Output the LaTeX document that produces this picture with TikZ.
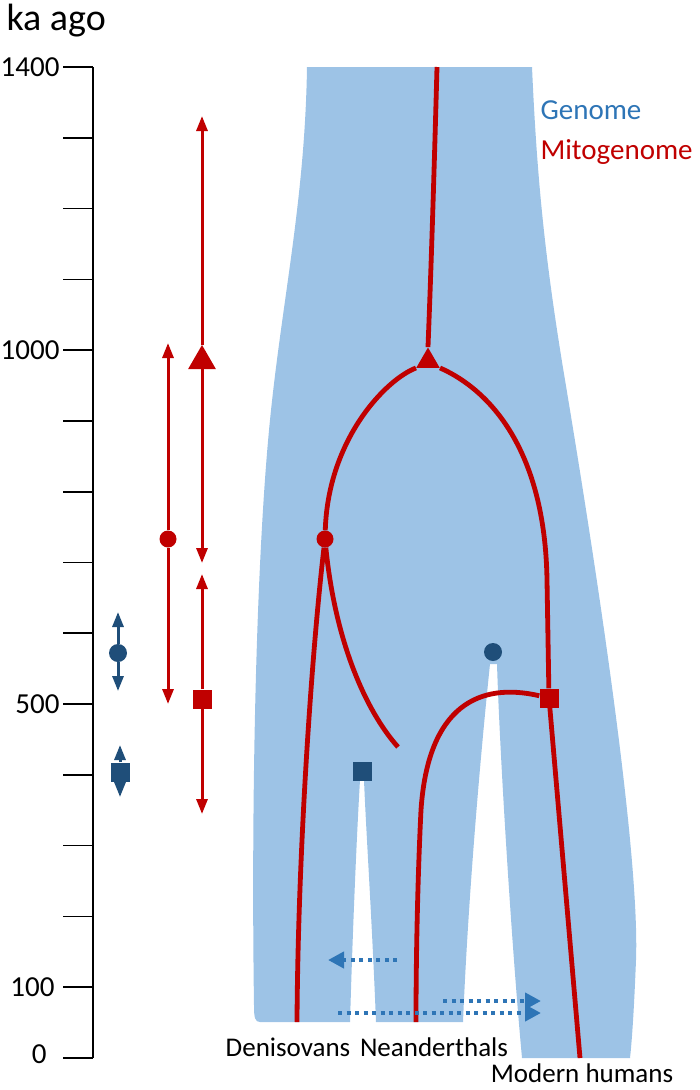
\documentclass[tikz,border=0pt]{standalone}
\usepackage{fontspec}
\setmainfont{Carlito}
\usepackage{tikz}
\usetikzlibrary{arrows.meta,shapes.geometric}
\definecolor{genomeFill}{HTML}{9DC3E6}
\definecolor{mitoRed}{HTML}{C00000}
\definecolor{genomeDark}{HTML}{1F4E79}
\definecolor{flowBlue}{HTML}{2E75B6}

\begin{document}
\begin{tikzpicture}[
  x=1pt, y=-1pt,
  font=\fontsize{27}{32}\selectfont,
  axisline/.style={line width=1.6pt, draw=black},
  genome/.style={fill=genomeFill},
  mito/.style={line width=4.8pt, draw=mitoRed},
  agerange/.style={line width=3pt, draw=mitoRed, -{Triangle[length=15pt, width=11pt]}},
  genorange/.style={line width=3pt, draw=genomeDark, -{Triangle[length=15pt, width=11pt]}},
  geneflow/.style={line width=4pt, draw=flowBlue, dash pattern=on 4pt off 4.5pt,
    -{Triangle[length=16pt, width=16pt]}},
  mitodot/.style={circle, fill=mitoRed, inner sep=0pt, minimum size=17pt},
  mitosq/.style={rectangle, fill=mitoRed, inner sep=0pt, minimum size=19pt},
  mitotri/.style={regular polygon, regular polygon sides=3, fill=mitoRed, inner sep=0pt, minimum size=#1},
  genodot/.style={circle, fill=genomeDark, inner sep=0pt, minimum size=18pt},
  genosq/.style={rectangle, fill=genomeDark, inner sep=0pt, minimum size=19pt}
]
  \useasboundingbox (0,0) rectangle (700,1090);

  % time axis
  \node[anchor=base west, font=\fontsize{38}{42}\selectfont] (unit) at (3,30) {ka ago};
  \draw[axisline] (93,67) -- (93,1058);
  \foreach \t in {0,...,14}
    \draw[axisline] (63,{1058-70.786*\t}) -- (93,{1058-70.786*\t});
  \node[anchor=east, font=\fontsize{29}{32}\selectfont] (l1400) at (63,67) {1400};
  \node[anchor=east, font=\fontsize{29}{32}\selectfont] (l1000) at (63,350) {1000};
  \node[anchor=east, font=\fontsize{29}{32}\selectfont] (l500) at (63,704) {500};
  \node[anchor=east, font=\fontsize{29}{32}\selectfont] (l100) at (58,987) {100};
  \node[anchor=east, font=\fontsize{29}{32}\selectfont] (l0) at (50,1054) {0};

  % genome tree
  \fill[genome] (307,67) -- (532,67)
    .. controls (537,180) and (545,260) .. (565,380)
    .. controls (595,560) and (640,850) .. (636,960)
    .. controls (634,1010) and (632,1040) .. (630,1058) -- (522,1058)
    .. controls (512,950) and (500,760) .. (497,664) -- (490,664)
    .. controls (480,760) and (468,900) .. (463,1022) -- (376,1022)
    .. controls (372,920) and (366,830) .. (364,780) -- (360,780)
    .. controls (357,830) and (353,920) .. (350,1022) -- (260,1022)
    .. controls (255,1022) and (254,1018) .. (254,1005)
    .. controls (251,800) and (256,560) .. (270,420)
    .. controls (282,300) and (305,200) .. (307,67) -- cycle;

  \node[text=flowBlue, anchor=west, font=\fontsize{29}{32}\selectfont] (genleg) at (537,110) {Genome};
  \node[text=mitoRed, anchor=west, font=\fontsize{29}{32}\selectfont] (mitleg) at (537,152) {Mitogenome};

  % mitogenome tree
  \node[mitotri=27pt] (mtri) at (428,361) {};
  \node[mitodot] (mcirc) at (325,539) {};
  \node[mitosq] (msq) at (549,698) {};
  \coordinate (mroot) at (437,67);
  \coordinate (dend) at (297,1022);
  \coordinate (xend) at (398,747);
  \coordinate (nend) at (416,1022);
  \coordinate (hend) at (580,1058);

  \draw[mito] (mroot) .. controls (432,250) and (429,320) .. (mtri.north);
  \draw[mito] (mtri.corner 2) .. controls (385,380) and (328,440) .. (mcirc);
  \draw[mito] (mtri.corner 3) .. controls (490,390) and (545,450) .. (547,580) -- (msq);
  \draw[mito] (msq) -- (hend);
  \draw[mito] (mcirc) .. controls (312,650) and (298,850) .. (dend);
  \draw[mito] (mcirc) .. controls (335,640) and (365,710) .. (xend);
  \draw[mito] (msq) .. controls (480,682) and (428,705) .. (421,810)
    .. controls (418,870) and (416,950) .. (nend);

  \node[genodot] (gcirc) at (493,652) {};
  \node[genosq] (gsq) at (362,771) {};

  % gene flow
  \coordinate (fa1) at (397,960);
  \coordinate (fa2) at (328,960);
  \coordinate (fb1) at (443,1001);
  \coordinate (fb2) at (541,1001);
  \coordinate (fc1) at (338,1013);
  \coordinate (fc2) at (541,1013);
  \draw[geneflow] (fa1) -- (fa2);
  \draw[geneflow] (fb1) -- (fb2);
  \draw[geneflow] (fc1) -- (fc2);

  % age estimates
  \node[mitodot] (scirc) at (168,539) {};
  \node[mitotri=32pt] (stri) at (202,361) {};
  \node[mitosq] (ssq) at (202,699) {};
  \node[genodot] (sgcirc) at (118,653) {};
  \node[genosq] (sgsq) at (120,772) {};
  \coordinate (c1top) at (168,343);
  \coordinate (c1bot) at (168,704);
  \coordinate (c2top) at (202,116);
  \coordinate (c2mid) at (202,563);
  \coordinate (c3top) at (202,574);
  \coordinate (c3bot) at (202,814);
  \coordinate (g1top) at (118,612);
  \coordinate (g1bot) at (118,691);
  \coordinate (g2top) at (120,745);
  \coordinate (g2bot) at (120,797);
  \draw[agerange] (scirc) -- (c1top);
  \draw[agerange] (scirc) -- (c1bot);
  \draw[agerange] (stri.north) -- (c2top);
  \draw[agerange] (stri.south) -- (c2mid);
  \draw[agerange] (ssq) -- (c3top);
  \draw[agerange] (ssq) -- (c3bot);
  \draw[genorange] (sgcirc) -- (g1top);
  \draw[genorange] (sgcirc) -- (g1bot);
  \draw[genorange] (sgsq) -- (g2top);
  \draw[genorange] (sgsq) -- (g2bot);

  % lineages
  \node (den) at (288,1047) {Denisovans};
  \node (nea) at (434,1047) {Neanderthals};
  \node (mod) at (582,1073) {Modern humans};
\end{tikzpicture}
\end{document}
